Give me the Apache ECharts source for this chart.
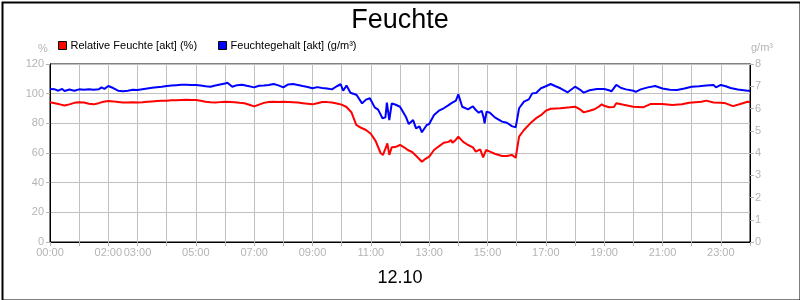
<!DOCTYPE html>
<html>
<head>
<meta charset="utf-8">
<script src="https://cdn.jsdelivr.net/npm/echarts@6/dist/echarts.min.js"></script>
<style>
html,body{margin:0;padding:0;background:#fff;}
#chart{width:800px;height:300px;}
</style>
</head>
<body>
<div id="chart"></div>
<script>
const titleText = 'Feuchte';
const dateText = '12.10';
const seriesNames = ['Relative Feuchte [akt] (%)', 'Feuchtegehalt [akt] (g/m³)'];
const xTickLabels = ['00:00','02:00','03:00','05:00','07:00','09:00','11:00','13:00','15:00','17:00','19:00','21:00','23:00'];

const relTimes = [
'00:00','00:10','00:20','00:30','00:40','00:50','01:00','01:10','01:20','01:30',
'01:40','01:50','02:00','02:10','02:20','02:30','02:40','02:50','03:00','03:10',
'03:20','03:30','03:40','03:50','04:00','04:10','04:20','04:30','04:40','04:50',
'05:00','05:10','05:20','05:30','05:40','05:50','06:00','06:10','06:20','06:30',
'06:40','06:50','07:00','07:10','07:20','07:30','07:40','07:50','08:00','08:10',
'08:20','08:30','08:40','08:50','09:00','09:10','09:20','09:30','09:40','09:50',
'10:00','10:10','10:20','10:30','10:40','10:50','11:00','11:10','11:20','11:25',
'11:30','11:34','11:38','11:43','11:50','12:00','12:10','12:16','12:25','12:35',
'12:45','12:50','13:00','13:10','13:20','13:30','13:40','13:45','13:48','13:55',
'14:00','14:10','14:20','14:30','14:36','14:45','14:51','14:57','15:05','15:15',
'15:30','15:40','15:50','15:58','16:05','16:15','16:28','16:40','16:50','17:00',
'17:10','17:20','17:30','17:40','17:50','18:00','18:10','18:18','18:30','18:40',
'18:50','18:55','19:00','19:10','19:20','19:25','19:40','20:00','20:20','20:35',
'21:00','21:20','21:40','21:55','22:20','22:30','22:45','23:00','23:10','23:25',
'23:40','23:55','24:00'];
const relValues = [
94.2,93.5,92.8,92.0,92.8,93.8,94.2,94.0,93.2,92.8,
93.6,94.5,95.0,94.8,94.4,94.0,94.0,94.2,94.0,94.2,
94.6,94.8,95.0,95.2,95.3,95.5,95.6,95.8,95.9,95.8,
95.7,95.2,94.6,94.2,94.0,94.3,94.6,94.4,94.2,93.8,
93.5,92.5,91.4,92.6,93.8,94.4,94.6,94.4,94.5,94.4,
94.2,94.0,93.6,93.2,92.8,93.6,94.4,94.3,94.0,93.4,
92.6,91.0,87.5,79.0,77.0,75.5,73.0,68.0,60.0,58.7,
63.0,66.5,58.7,63.8,64.0,65.4,63.5,62.0,60.7,57.5,
54.1,55.5,57.5,62.0,64.5,66.9,67.5,68.8,66.9,69.0,
71.0,67.5,65.4,63.8,60.9,62.5,57.1,62.0,60.9,59.5,
58.0,58.0,58.7,56.8,71.0,75.5,80.0,83.5,85.5,88.5,
89.8,90.0,90.1,90.5,90.8,91.2,89.5,87.4,88.5,89.5,
91.5,92.8,91.8,90.8,91.0,93.5,92.5,91.2,90.8,93.0,
93.0,92.4,92.8,93.9,94.5,95.3,94.0,93.8,93.5,91.6,
93.0,94.6,94.4];

const absTimes = [
'00:00','00:10','00:17','00:25','00:30','00:40','00:50','01:00','01:10','01:20',
'01:30','01:40','01:46','01:52','02:00','02:10','02:20','02:30','02:40','02:50',
'03:00','03:10','03:20','03:30','03:40','03:50','04:00','04:10','04:20','04:30',
'04:40','04:50','05:00','05:10','05:20','05:30','05:40','05:50','06:00','06:05',
'06:15','06:25','06:35','06:45','07:00','07:10','07:20','07:30','07:40','07:50',
'08:00','08:10','08:20','08:30','08:40','08:50','09:00','09:10','09:20','09:30',
'09:40','09:50','09:58','10:03','10:10','10:18','10:30','10:33','10:42','10:50',
'10:58','11:08','11:15','11:24','11:30','11:33','11:38','11:43','11:50','12:00',
'12:12','12:18','12:27','12:33','12:40','12:45','12:55','13:00','13:10','13:20',
'13:30','13:40','13:45','13:55','14:00','14:08','14:20','14:30','14:36','14:42',
'14:48','14:52','14:54','14:58','15:05','15:15','15:30','15:40','15:50','15:58',
'16:05','16:15','16:25','16:32','16:40','16:50','17:00','17:10','17:20','17:30',
'17:45','18:00','18:10','18:18','18:30','18:45','19:00','19:10','19:15','19:25',
'19:35','19:45','20:00','20:05','20:15','20:30','20:45','21:00','21:15','21:30',
'21:45','22:00','22:15','22:30','22:45','22:50','23:00','23:10','23:20','23:35',
'23:55','24:00'];
const absValues = [
6.88,6.86,6.80,6.88,6.79,6.85,6.80,6.86,6.84,6.86,
6.84,6.86,6.95,6.88,7.01,6.92,6.80,6.78,6.80,6.84,
6.83,6.87,6.90,6.93,6.96,6.98,7.01,7.03,7.05,7.07,
7.07,7.06,7.06,7.03,7.00,6.98,7.03,7.08,7.12,7.16,
6.98,7.05,7.07,7.02,6.95,7.02,7.03,7.06,7.10,7.04,
6.95,7.08,7.10,7.06,7.01,6.97,6.91,6.96,6.92,6.90,
6.86,7.00,7.09,6.80,7.03,6.71,6.62,6.53,6.23,6.40,
6.46,6.05,5.95,5.56,5.60,6.26,5.48,6.23,6.18,6.08,
5.63,5.30,5.48,5.11,5.20,4.93,5.26,5.30,5.71,5.90,
6.01,6.15,6.23,6.35,6.64,6.08,5.96,6.10,5.93,5.81,
5.90,5.60,5.33,5.86,5.81,5.60,5.41,5.36,5.21,5.15,
6.01,6.31,6.41,6.68,6.70,6.91,7.00,7.10,7.00,6.91,
6.73,6.98,6.85,6.71,6.82,6.88,6.88,6.82,6.77,7.06,
6.92,6.86,6.80,6.75,6.86,6.95,7.01,6.90,6.84,6.83,
6.90,6.98,7.00,7.03,7.06,6.95,7.06,7.00,6.92,6.85,
6.80,6.80];

function toHours(s){ const p = s.split(':'); return Number(p[0]) + Number(p[1]) / 60; }
function zip(times, vals){ const n = Math.min(times.length, vals.length); const out = []; for (let i = 0; i < n; i++) out.push([toHours(times[i]), vals[i]]); return out; }
function hourLabel(v){ const h = Math.round(v); return (h < 10 ? '0' : '') + h + ':00'; }

const FONT = '"Liberation Sans", Arial, sans-serif';
const grey = '#b4b4b4';
const gridGrey = '#c0c0c0';

const chart = echarts.init(document.getElementById('chart'), null, {renderer: 'canvas'});
chart.setOption({
  animation: false,
  backgroundColor: '#fff',
  title: [
    {text: titleText, left: 'center', top: 2, textStyle: {fontFamily: FONT, fontSize: 27, fontWeight: 'normal', color: '#000'}},
    {text: dateText, left: 'center', top: 264, textStyle: {fontFamily: FONT, fontSize: 18, fontWeight: 'normal', color: '#000'}}
  ],
  legend: {
    left: 53, top: 35, itemWidth: 8, itemHeight: 8, itemGap: 21, icon: 'rect',
    textStyle: {fontFamily: FONT, fontSize: 11, color: '#000', padding: [0,0,0,-1]},
    itemStyle: {borderColor: '#000', borderWidth: 1},
    data: seriesNames
  },
  grid: {left: 50, right: 50, top: 64, bottom: 58, show: true, borderColor: '#000', borderWidth: 1, backgroundColor: 'transparent'},
  xAxis: {
    type: 'value', min: 0, max: 24, interval: 1,
    axisLine: {lineStyle: {color: '#000', width: 1}},
    axisTick: {show: true, length: 4, lineStyle: {color: grey}},
    axisLabel: {color: grey, fontFamily: FONT, fontSize: 11, margin: 5,
      formatter: function(v){ const s = hourLabel(v); return (v <= 23 && xTickLabels.indexOf(s) >= 0) ? s : ''; }},
    splitLine: {show: true, lineStyle: {color: gridGrey, width: 1}}
  },
  yAxis: [
    {type: 'value', min: 0, max: 120, interval: 20, position: 'left',
     name: '%', nameLocation: 'end', nameGap: 10,
     nameTextStyle: {color: grey, fontFamily: FONT, fontSize: 11, padding: [0, 14, 0, 0]},
     axisLine: {show: true, lineStyle: {color: '#000'}},
     axisTick: {show: true, length: 4, lineStyle: {color: grey}},
     axisLabel: {color: grey, fontFamily: FONT, fontSize: 11, margin: 6},
     splitLine: {show: true, lineStyle: {color: gridGrey, width: 1}}},
    {type: 'value', min: 0, max: 8, interval: 1, position: 'right',
     name: 'g/m³', nameLocation: 'end', nameGap: 11,
     nameTextStyle: {color: grey, fontFamily: FONT, fontSize: 11, padding: [0, 0, 0, 24]},
     axisLine: {show: true, lineStyle: {color: '#000'}},
     axisTick: {show: true, length: 4, lineStyle: {color: grey}},
     axisLabel: {color: grey, fontFamily: FONT, fontSize: 11, margin: 5},
     splitLine: {show: false}}
  ],
  series: [
    {name: seriesNames[0], type: 'line', yAxisIndex: 0, showSymbol: false, symbol: 'none',
     color: '#ff0000', lineStyle: {color: '#ff0000', width: 2}, data: zip(relTimes, relValues)},
    {name: seriesNames[1], type: 'line', yAxisIndex: 1, showSymbol: false, symbol: 'none',
     color: '#0000ff', lineStyle: {color: '#0000ff', width: 2}, data: zip(absTimes, absValues)}
  ],
  graphic: [
    {type: 'rect', left: 0, top: 0, silent: true, z: 100,
     shape: {x: 1, y: 1, width: 798, height: 298}, style: {fill: 'none', stroke: '#000', lineWidth: 2}}
  ]
});
</script>
</body>
</html>
